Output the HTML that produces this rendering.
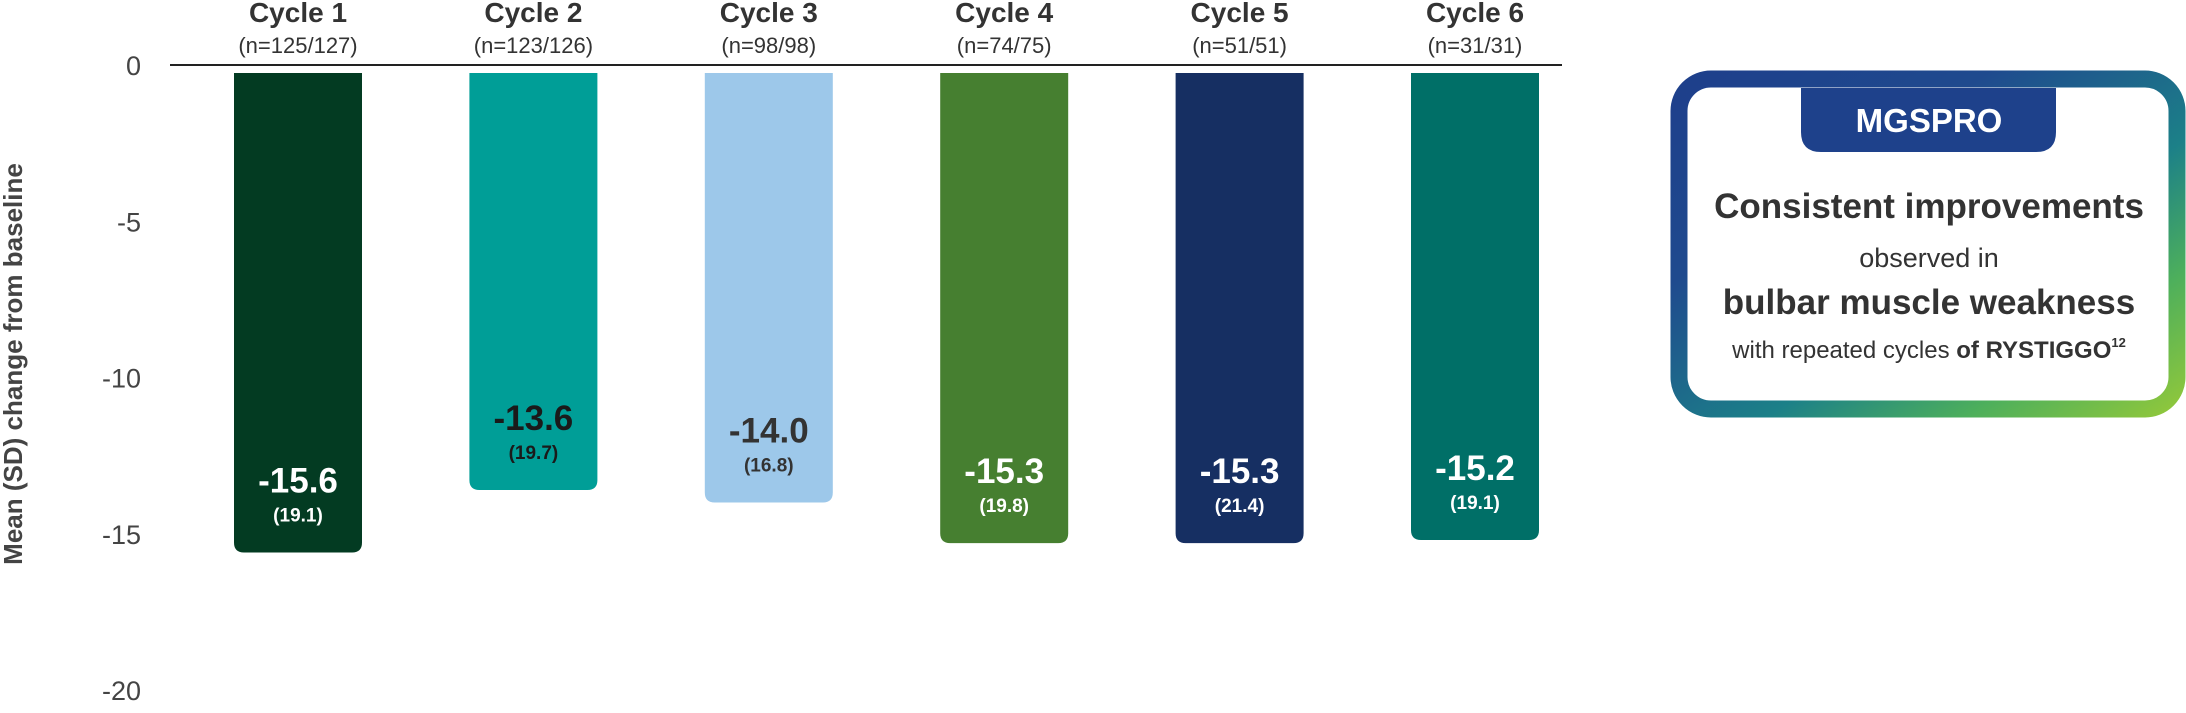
<!DOCTYPE html>
<html><head><meta charset="utf-8"><style>
html,body{margin:0;padding:0;background:#fff;}
body{width:2186px;height:713px;overflow:hidden;position:relative;font-family:"Liberation Sans",sans-serif;}
</style></head><body>
<svg id="chart" width="2186" height="713" style="position:absolute;left:0;top:0" font-family="Liberation Sans, sans-serif">
<defs>
<linearGradient id="bordergrad" x1="0" y1="0" x2="1" y2="1">
<stop offset="0" stop-color="#1e3f8b"/>
<stop offset="0.3" stop-color="#1f4a8e"/>
<stop offset="0.6" stop-color="#1c8088"/>
<stop offset="0.8" stop-color="#4daf5c"/>
<stop offset="1" stop-color="#8fc73c"/>
</linearGradient>
</defs>
<g id="plot"></g>
<text transform="translate(22,364) rotate(-90)" text-anchor="middle" font-size="26" font-weight="bold" fill="#444">Mean (SD) change from baseline</text>
<g>
<rect x="1679" y="79" width="498" height="330" rx="32" fill="#fff" stroke="url(#bordergrad)" stroke-width="17"/>
<path d="M1801,88 H2056 V132 Q2056,152 2036,152 H1821 Q1801,152 1801,132 Z" fill="#1e418b"/>
<text x="1929" y="132" text-anchor="middle" font-size="33" font-weight="bold" fill="#fff">MGSPRO</text>
<text x="1929" y="218" text-anchor="middle" font-size="35" font-weight="bold" fill="#333">Consistent improvements</text>
<text x="1929" y="267" text-anchor="middle" font-size="27" fill="#333">observed in</text>
<text x="1929" y="314" text-anchor="middle" font-size="35" font-weight="bold" fill="#333">bulbar muscle weakness</text>
<text x="1929" y="358" text-anchor="middle" font-size="24" fill="#333">with repeated cycles <tspan font-weight="bold">of RYSTIGGO</tspan><tspan font-size="13" dy="-11" font-weight="bold">12</tspan></text>
</g>
</svg>
<script>
const categories = ["Cycle 1","Cycle 2","Cycle 3","Cycle 4","Cycle 5","Cycle 6"];
const nLabels = ["(n=125/127)","(n=123/126)","(n=98/98)","(n=74/75)","(n=51/51)","(n=31/31)"];
const values = [-15.6,-13.6,-14.0,-15.3,-15.3,-15.2];
const sds = [19.1,19.7,16.8,19.8,21.4,19.1];
const barColors = ["#033b22","#009e97","#9dc8ea","#467f30","#162f62","#006f67"];
const labelColors = ["#fff","#1a1a1a","#333","#fff","#fff","#fff"];
const yTicks = [0,-5,-10,-15,-20];

const NS="http://www.w3.org/2000/svg";
const g=document.getElementById('plot');
const y0=65, pxPerUnit=31.25;
function yScale(v){return y0 - v*pxPerUnit;}
const firstX=234, step=235.4, barW=128;
function xScale(i){return firstX + i*step;}
function mk(t,attrs,txt){const e=document.createElementNS(NS,t);for(const k in attrs)e.setAttribute(k,attrs[k]);if(txt!==undefined)e.textContent=txt;g.appendChild(e);return e;}

yTicks.forEach(t=>{
  const e=mk('text',{x:141,y:yScale(t)+10,'text-anchor':'end','font-size':27,fill:'#444'},String(t));
  
  
});
values.forEach((v,i)=>{
  const x=xScale(i), top=yScale(0)+8, bot=yScale(v), r=10, cx=x+barW/2;
  const p=mk('path',{d:`M${x},${top} H${x+barW} V${bot-r} Q${x+barW},${bot} ${x+barW-r},${bot} H${x+r} Q${x},${bot} ${x},${bot-r} Z`,fill:barColors[i]});
  
  
  const c=mk('text',{x:cx,y:22,'text-anchor':'middle','font-size':28,'font-weight':'bold',fill:'#333'},categories[i]);
  
  
  const n=mk('text',{x:cx,y:53,'text-anchor':'middle','font-size':22,fill:'#333'},nLabels[i]);
  
  
  const vl=mk('text',{x:cx,y:bot-60,'text-anchor':'middle','font-size':35,'font-weight':'bold',fill:labelColors[i]},v.toFixed(1));
  
  
  const sl=mk('text',{x:cx,y:bot-31,'text-anchor':'middle','font-size':19,'font-weight':'bold',fill:labelColors[i]},'('+sds[i].toFixed(1)+')');
  
  
});
const ax=mk('line',{x1:170,x2:1562,y1:y0,y2:y0,stroke:'#222','stroke-width':2});


</script>
</body></html>
